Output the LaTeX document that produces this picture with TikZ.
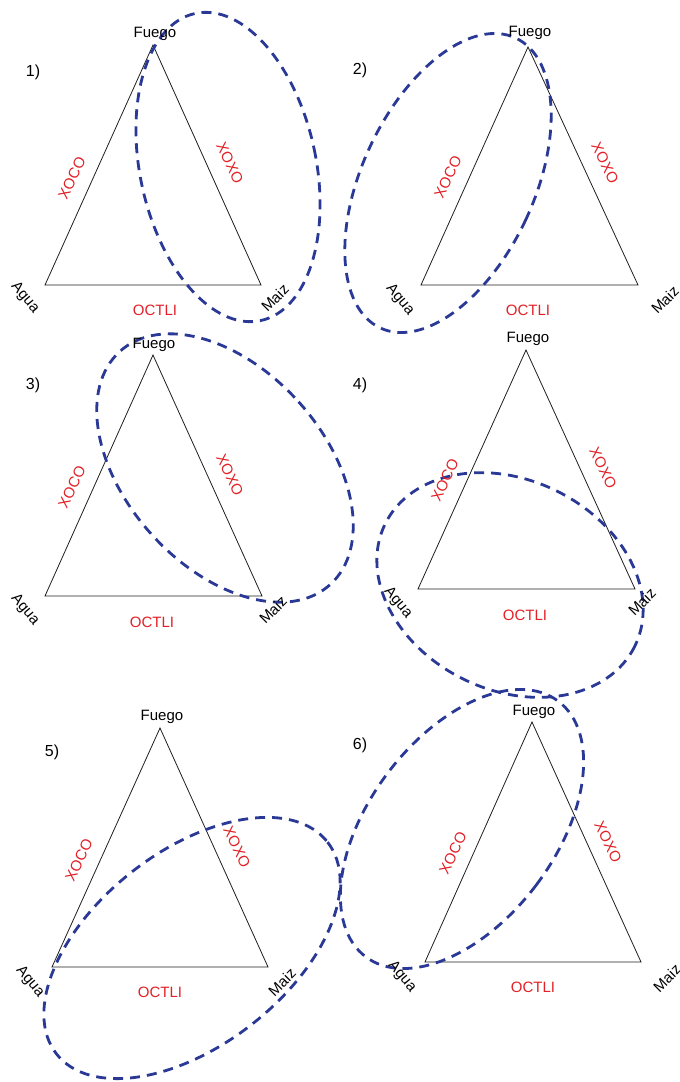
\documentclass[tikz,border=0pt]{standalone}
\usepackage{fontspec}
\setmainfont{Liberation Sans}
\usepackage{tikz}

\begin{document}
\begin{tikzpicture}[x=1pt,y=1pt,yscale=-1,xscale=1,
  tri/.style={color={rgb, 255:red, 30; green, 30; blue, 30 }, line width=0.8pt},
  grupo/.style={color={rgb, 255:red, 42; green, 56; blue, 150 }, line width=2.8pt, dash pattern={on 10pt off 7pt}},
  vert/.style={inner sep=0.75pt, font=\fontsize{15}{18}\selectfont},
  lado/.style={inner sep=0.75pt, text={rgb, 255:red, 226; green, 32; blue, 38 }, font=\fontsize{15}{18}\selectfont},
  num/.style={inner sep=0.75pt, font=\fontsize{16}{19}\selectfont}]
\useasboundingbox (0,0) rectangle (680,1082);

%Shape: Triangle [panel 1]
\coordinate (F1) at (153,45);
\coordinate (A1) at (45,285);
\coordinate (M1) at (261,285);
\draw [tri] (A1) -- (F1) -- (M1) -- cycle ;
%Shape: Ellipse [panel 1]
\draw [grupo] (228,167) ellipse [x radius=88, y radius=157, rotate=-12] ;
% Text Node
\node [num] (n1) at (33,72) {1)};
\node [vert] (fuego1) at (155,34) {Fuego};
\node [vert, rotate=-50] (agua1) at (25,298) {Agua};
\node [vert, rotate=45] (maiz1) at (275,298) {Maiz};
\node [lado, rotate=64] (xoco1) at (72,178) {XOCO};
\node [lado, rotate=-64] (xoxo1) at (230,163) {XOXO};
\node [lado] (octli1) at (155,310) {OCTLI};

%Shape: Triangle [panel 2]
\coordinate (F2) at (528,47);
\coordinate (A2) at (421,285);
\coordinate (M2) at (638,285);
\draw [tri] (A2) -- (F2) -- (M2) -- cycle ;
%Shape: Ellipse [panel 2]
\draw [grupo] (448,183) ellipse [x radius=86, y radius=160, rotate=25] ;
% Text Node
\node [num] (n2) at (360,70) {2)};
\node [vert] (fuego2) at (530,33) {Fuego};
\node [vert, rotate=-50] (agua2) at (400,300) {Agua};
\node [vert, rotate=45] (maiz2) at (665,300) {Maiz};
\node [lado, rotate=64] (xoco2) at (448,177) {XOCO};
\node [lado, rotate=-64] (xoxo2) at (605,163) {XOXO};
\node [lado] (octli2) at (528,310) {OCTLI};

%Shape: Triangle [panel 3]
\coordinate (F3) at (153,355);
\coordinate (A3) at (45,596);
\coordinate (M3) at (262,596);
\draw [tri] (A3) -- (F3) -- (M3) -- cycle ;
%Shape: Ellipse [panel 3]
\draw [grupo] (225,468) ellipse [x radius=99, y radius=157, rotate=-42] ;
% Text Node
\node [num] (n3) at (33,385) {3)};
\node [vert] (fuego3) at (154,345) {Fuego};
\node [vert, rotate=-50] (agua3) at (25,610) {Agua};
\node [vert, rotate=45] (maiz3) at (273,610) {Maiz};
\node [lado, rotate=64] (xoco3) at (72,487) {XOCO};
\node [lado, rotate=-64] (xoxo3) at (230,475) {XOXO};
\node [lado] (octli3) at (152,622) {OCTLI};

%Shape: Triangle [panel 4]
\coordinate (F4) at (526,350);
\coordinate (A4) at (418,589);
\coordinate (M4) at (635,589);
\draw [tri] (A4) -- (F4) -- (M4) -- cycle ;
%Shape: Ellipse [panel 4]
\draw [grupo] (510,585) ellipse [x radius=139, y radius=105, rotate=26] ;
% Text Node
\node [num] (n4) at (360,385) {4)};
\node [vert] (fuego4) at (528,339) {Fuego};
\node [vert, rotate=-50] (agua4) at (398,603) {Agua};
\node [vert, rotate=45] (maiz4) at (642,602) {Maiz};
\node [lado, rotate=64] (xoco4) at (445,480) {XOCO};
\node [lado, rotate=-64] (xoxo4) at (603,468) {XOXO};
\node [lado] (octli4) at (525,615) {OCTLI};

%Shape: Triangle [panel 5]
\coordinate (F5) at (160,728);
\coordinate (A5) at (52,967);
\coordinate (M5) at (268,967);
\draw [tri] (A5) -- (F5) -- (M5) -- cycle ;
%Shape: Ellipse [panel 5]
\draw [grupo] (192,948) ellipse [x radius=172, y radius=97, rotate=-38] ;
% Text Node
\node [num] (n5) at (52,752) {5)};
\node [vert] (fuego5) at (162,717) {Fuego};
\node [vert, rotate=-50] (agua5) at (30,982) {Agua};
\node [vert, rotate=45] (maiz5) at (282,982) {Maiz};
\node [lado, rotate=64] (xoco5) at (79,860) {XOCO};
\node [lado, rotate=-64] (xoxo5) at (237,847) {XOXO};
\node [lado] (octli5) at (160,992) {OCTLI};

%Shape: Triangle [panel 6]
\coordinate (F6) at (532,722);
\coordinate (A6) at (425,962);
\coordinate (M6) at (641,962);
\draw [tri] (A6) -- (F6) -- (M6) -- cycle ;
%Shape: Ellipse [panel 6]
\draw [grupo] (462,829) ellipse [x radius=93, y radius=160, rotate=37] ;
% Text Node
\node [num] (n6) at (360,745) {6)};
\node [vert] (fuego6) at (534,712) {Fuego};
\node [vert, rotate=-50] (agua6) at (402,977) {Agua};
\node [vert, rotate=45] (maiz6) at (667,978) {Maiz};
\node [lado, rotate=64] (xoco6) at (453,853) {XOCO};
\node [lado, rotate=-64] (xoxo6) at (608,842) {XOXO};
\node [lado] (octli6) at (533,987) {OCTLI};

\end{tikzpicture}
\end{document}
